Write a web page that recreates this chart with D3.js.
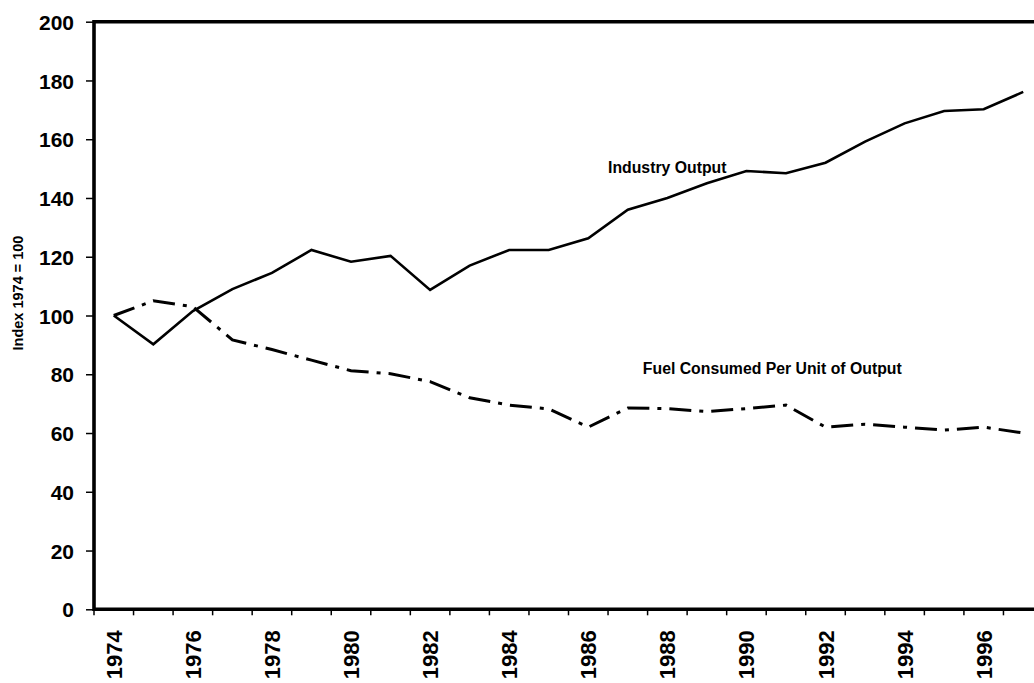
<!DOCTYPE html>
<html><head><meta charset="utf-8">
<script src="https://cdn.jsdelivr.net/npm/d3@7"></script>
<style>
html,body{margin:0;padding:0;background:#fff;overflow:hidden}
svg{display:block;font-family:"Liberation Sans",Arial,sans-serif;font-weight:bold}
</style></head>
<body>
<svg id="c" width="1034" height="683"></svg>
<script>
const years = [1974,1975,1976,1977,1978,1979,1980,1981,1982,1983,1984,1985,1986,1987,1988,1989,1990,1991,1992,1993,1994,1995,1996,1997];
const industryOutput = [100,90.2,101.5,109,114.5,122.3,118.3,120.3,108.7,117,122.3,122.3,126.3,136,140,145,149.2,148.4,152,159.2,165.4,169.6,170.2,176.1];
const fuelPerUnit = [100,105,103,91.7,88.4,84.8,81.2,80.2,77.5,72,69.5,68.2,62,68.5,68.3,67.3,68.3,69.5,62,63,62,61,62,60];
const yTicks = [0,20,40,60,80,100,120,140,160,180,200];
const xLabelYears = [1974,1976,1978,1980,1982,1984,1986,1988,1990,1992,1994,1996];
const yTitle = "Index 1974 = 100";
const labels = [
  {text:"Industry Output", year:1986.5, value:148.5},
  {text:"Fuel Consumed Per Unit of Output", year:1987.38, value:80.1}
];

(function(){
const svg = d3.select("#c");
const pL = 94, pR = 1043, pT = 21.7, pB = 609.3;

const x = d3.scaleBand().domain(years).range([pL, pR]).paddingInner(0).paddingOuter(0);
const xc = d => x(d) + x.bandwidth()/2;
const y = d3.scaleLinear().domain([0,200]).range([pB, pT]);
const xLin = d3.scaleLinear().domain([years[0], years[years.length-1]]).range([xc(years[0]), xc(years[years.length-1])]);

const yAxis = d3.axisLeft(y).tickValues(yTicks).tickSize(8).tickPadding(12).tickFormat(d3.format("d"));
const gy = svg.append("g").attr("transform",`translate(${pL},0)`).call(yAxis);
gy.select(".domain").remove();
gy.selectAll(".tick line").attr("stroke","#000").attr("stroke-width",1.5);
gy.selectAll(".tick text").attr("font-size",21).attr("font-family","Liberation Sans, Arial, sans-serif").attr("font-weight","bold").attr("fill","#000").attr("dy","0.36em");

const bounds = years.map(d => x(d));
svg.append("g").selectAll("line").data(bounds).join("line")
  .attr("x1",d=>d).attr("x2",d=>d).attr("y1",pB).attr("y2",pB+6)
  .attr("stroke","#000").attr("stroke-width",1.5);

svg.append("g").selectAll("text").data(xLabelYears).join("text")
  .attr("transform", d => `translate(${xc(d)+8},${pB+21}) rotate(-90)`)
  .attr("text-anchor","end")
  .attr("font-size",22)
  .attr("fill","#000")
  .text(d=>d);

svg.append("path")
  .attr("d",`M${pR},${pT}H${pL}V${pB}H${pR}`)
  .attr("fill","none").attr("stroke","#000").attr("stroke-width",3.6);

const line = d3.line().x((d,i)=>xc(years[i])).y(d=>y(d));
svg.append("path").datum(industryOutput).attr("d",line)
  .attr("fill","none").attr("stroke","#000").attr("stroke-width",2.6);
svg.append("path").datum(fuelPerUnit).attr("d",line)
  .attr("fill","none").attr("stroke","#000").attr("stroke-width",3)
  .attr("stroke-dasharray","22,8,4,8");

svg.append("text")
  .attr("transform",`translate(23,293) rotate(-90)`)
  .attr("text-anchor","middle")
  .attr("font-size",14.5)
  .attr("fill","#000")
  .text(yTitle);

svg.append("g").selectAll("text").data(labels).join("text")
  .attr("x", d => xLin(d.year))
  .attr("y", d => y(d.value))
  .attr("text-anchor","start")
  .attr("font-size",15.8)
  .attr("fill","#000")
  .text(d=>d.text);
})();
</script>
</body></html>
